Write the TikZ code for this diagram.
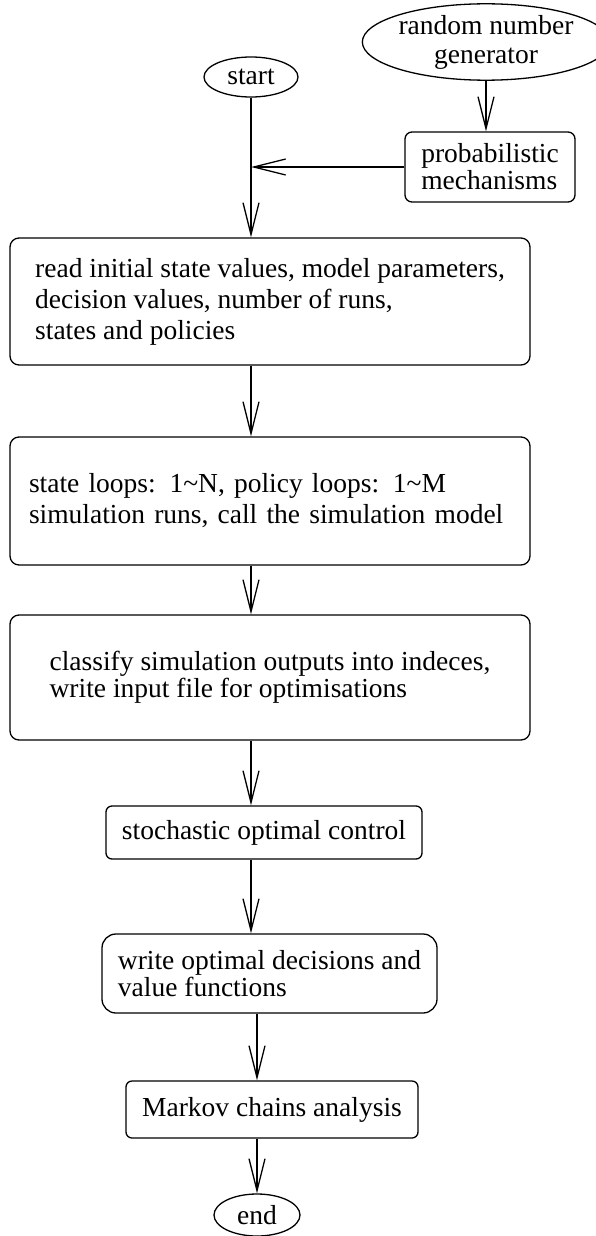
\documentclass[tikz,border=0pt]{standalone}
\usepackage{fontspec}
\setmainfont{Liberation Serif}
\usetikzlibrary{shapes.geometric,arrows.meta}
\begin{document}
\begin{tikzpicture}[
        x=1pt, y=1pt,
        every node/.style={font=\fontsize{27.5}{29}\selectfont},
        tight/.style={font=\fontsize{27.5}{27}\selectfont},
        loose/.style={font=\fontsize{27.5}{31}\selectfont},
        flow/.style={line width=1.3pt, -{Straight Barb[length=32pt,width=16pt,line width=1.3pt]}},
        term/.style={ellipse, draw, line width=1.3pt, inner sep=0pt},
        block/.style={rectangle, draw, line width=1.3pt, rounded corners=9pt, align=left, inner sep=0pt}
    ]
        \useasboundingbox (0,0) rectangle (595,-1236);

        \node[term, minimum width=94, minimum height=40] (start) at (251,-77) {start};
        \node[term, minimum width=224, minimum height=76, align=center] (rng) at (486,-42) {random number\\generator};
        \node[block, tight, rounded corners=7pt, minimum width=170, minimum height=70] (prob) at (490,-167) {probabilistic\\mechanisms};

        \node[block, loose, minimum width=520, minimum height=127] (read) at (270,-301.5)
            {read initial state values, model parameters,\\decision values, number of runs,\\states and policies};
        \node[block, loose, text width=482, inner xsep=19, minimum height=128] (sim) at (270,-501)
            {state loops: 1\textasciitilde N, policy loops: 1\textasciitilde M\\simulation runs, call the simulation model};
        \node[block, tight, minimum width=520, minimum height=125] (classify) at (270,-677.5)
            {classify simulation outputs into indeces,\\write input file for optimisations};
        \node[block, rounded corners=6pt, minimum width=316, minimum height=53] (control) at (264,-832.5) {stochastic optimal control};
        \node[block, tight, rounded corners=14pt, minimum width=335, minimum height=79] (write) at (269.5,-973.5)
            {write optimal decisions and\\value functions};
        \node[block, rounded corners=6pt, minimum width=292, minimum height=57] (markov) at (272,-1109.5) {Markov chains analysis};
        \node[term, minimum width=86, minimum height=42] (end) at (257,-1215) {end};

        \coordinate (join) at (start |- prob.west);

        \draw[flow] (start) -- (start |- read.north);
        \draw[flow] (rng) -- (rng |- prob.north);
        \draw[flow] (prob.west) -- (join);
        \draw[flow] (start |- read.south) -- (start |- sim.north);
        \draw[flow] (start |- sim.south) -- (start |- classify.north);
        \draw[flow] (start |- classify.south) -- (start |- control.north);
        \draw[flow] (start |- control.south) -- (start |- write.north);
        \draw[flow] (end |- write.south) -- (end |- markov.north);
        \draw[flow] (end |- markov.south) -- (end);

    \end{tikzpicture}
\end{document}
